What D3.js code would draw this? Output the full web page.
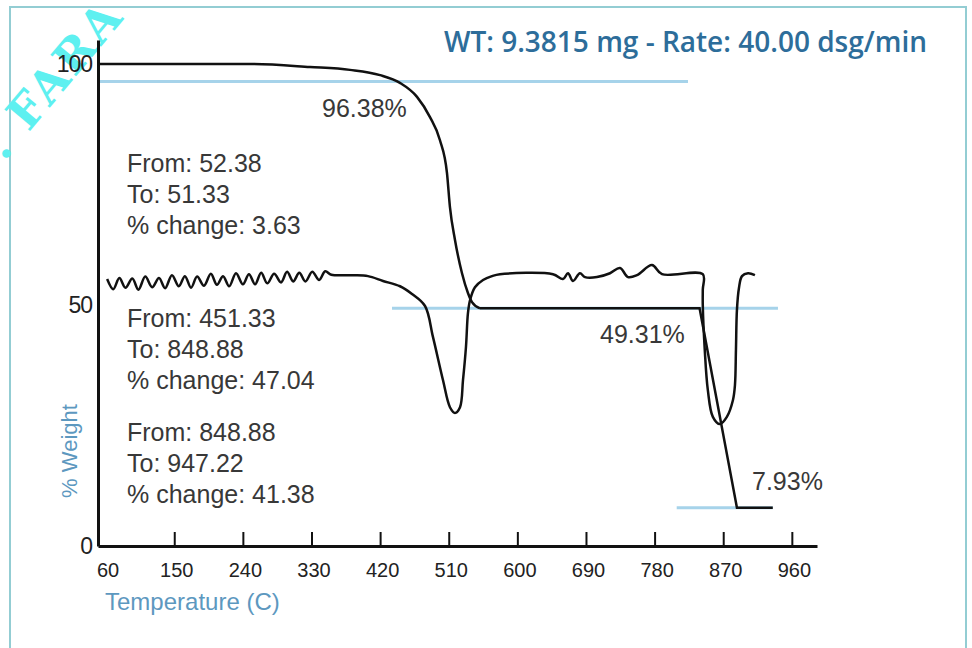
<!DOCTYPE html>
<html>
<head>
<meta charset="utf-8">
<script src="https://cdn.jsdelivr.net/npm/d3@7"></script>
<style>
body { margin: 0; background: #fff; }
text { font-family: "Liberation Sans", Arial, sans-serif; }
</style>
</head>
<body>
<svg id="chart" width="972" height="648"></svg>
<script>
// tick labels
var xTicks = [60, 150, 240, 330, 420, 510, 600, 690, 780, 870, 960];
var yTicks = [0, 50, 100];

// weight curve, smooth part (temperature C, % weight)
var tgaTemp   = [50, 253, 328, 380.5, 420, 446, 468.4, 485.4, 498.5, 507.7, 511.6, 518.2, 527.4, 535.2, 540.5, 551];
var tgaWeight = [100, 100, 99.4, 98.8, 97.7, 96.1, 93.2, 89.0, 84.2, 77.4, 70.3, 63.5, 56.6, 52.5, 50.6, 49.31];
// weight curve, straight part
var stepTemp   = [551, 839, 888, 935];
var stepWeight = [49.31, 49.31, 7.93, 7.93];

// derivative trace, drawn on the same axis
var dtgTemp = [62, 70, 78, 86, 95, 103, 112, 121, 130, 138, 147, 156, 164, 172, 180, 189, 198, 206,
  214, 222, 231, 240, 248, 256, 264, 272, 281, 290, 298, 306, 314, 322, 331, 340, 348, 356,
  384.4, 404.1, 423.8, 446.1, 461.8, 478.9, 489.3, 502.5, 511.6, 518.2, 524.8, 528.7, 532.6, 535.2,
  537.9, 544.4, 555, 566.7, 577.2, 646.7, 659.8, 666.4, 673, 682.1, 688.7, 704.4, 721.5, 734.6,
  745.1, 756.9, 776.6, 789.7, 843.2, 843.2, 843.2, 845.8, 849.8, 856.4, 865.6, 874.8, 882.8, 885.4,
  886.7, 888.0, 890.6, 894.6, 902.5, 911.6];
var dtgValue = [55.4, 53.3, 55.6, 53.6, 55.5, 53.2, 55.9, 53.7, 55.6, 53.5, 56.2, 53.9, 56.0, 53.6, 55.9, 54.0, 56.5, 54.2,
  56.0, 53.9, 56.6, 54.3, 56.4, 54.3, 56.7, 54.5, 56.5, 54.7, 56.9, 54.9, 56.7, 54.9, 56.9, 55.2, 57.0, 56.3,
  56.2, 56.0, 55.0, 53.9, 52.3, 49.8, 43.4, 34.4, 28.8, 27.6, 28.8, 34.4, 41.3, 48.3,
  51.0, 53.7, 55.2, 56.0, 56.4, 56.4, 55.4, 56.6, 55.0, 56.6, 55.8, 55.8, 56.6, 57.7,
  55.8, 56.2, 58.3, 56.4, 56.4, 53.2, 50.0, 40.7, 32.4, 26.8, 25.3, 26.8, 30.3, 33.4,
  40.7, 49.0, 53.5, 56.0, 56.6, 56.2];

// plateau levels
var refLevel = [96.38, 49.31, 7.93];
var refFrom  = [52.6, 435.6, 809];
var refTo    = [823.8, 941.8, 935];
var refLabel = ["96.38%", "49.31%", "7.93%"];

// step annotations
var stepFrom   = ["52.38", "451.33", "848.88"];
var stepTo     = ["51.33", "848.88", "947.22"];
var stepChange = ["3.63", "47.04", "41.38"];

var svg = d3.select("#chart");

var x = d3.scaleLinear().domain([50, 993]).range([98, 817]);
var y = d3.scaleLinear().domain([0, 105]).range([546, 40]);

// frame
svg.append("rect").attr("x", 10).attr("y", 7).attr("width", 956).attr("height", 660)
  .attr("fill", "none").attr("stroke", "#93cdd3").attr("stroke-width", 2);

// watermark
svg.append("text").attr("transform", "translate(4,162) rotate(-50)")
  .attr("fill", "#5ef0f0").style("font-family", "'DejaVu Serif', serif").style("font-weight", "bold")
  .style("font-size", "46px").style("letter-spacing", "3px").text(". FARA");

// plateau lines
refLevel.forEach(function(v, i) {
  svg.append("line")
    .attr("x1", x(refFrom[i])).attr("x2", x(refTo[i]))
    .attr("y1", y(v)).attr("y2", y(v))
    .attr("stroke", "#a6d3ea").attr("stroke-width", 3);
});

// x axis, ticks pointing up
var xAxis = d3.axisBottom(x).tickValues(xTicks).tickSizeInner(-14).tickSizeOuter(0).tickPadding(17);
var gx = svg.append("g").attr("transform", "translate(0," + y(0) + ")").call(xAxis);
gx.select(".domain").attr("stroke", "#111").attr("stroke-width", 3);
gx.selectAll(".tick line").attr("stroke", "#111").attr("stroke-width", 2);
gx.selectAll(".tick").filter(function(d) { return d === 60; }).select("line").remove();
gx.selectAll(".tick text").attr("fill", "#222").style("font-size", "20px").attr("dx", 2);

// y axis
var yAxis = d3.axisLeft(y).tickValues(yTicks).tickSize(0).tickPadding(6);
var gy = svg.append("g").attr("transform", "translate(" + x(50) + ",0)").call(yAxis);
gy.select(".domain").attr("stroke", "#111").attr("stroke-width", 3);
gy.selectAll(".tick text").attr("fill", "#222").style("font-size", "23px").style("letter-spacing", "-1px");

// curves
var smoothLine = d3.line().x(function(d) { return x(d[0]); }).y(function(d) { return y(d[1]); }).curve(d3.curveMonotoneX);
var straightLine = d3.line().x(function(d) { return x(d[0]); }).y(function(d) { return y(d[1]); });
var dtgLine = d3.line().x(function(d) { return x(d[0]); }).y(function(d) { return y(d[1]); }).curve(d3.curveCatmullRom.alpha(0.5));

svg.append("path").attr("d", dtgLine(d3.zip(dtgTemp, dtgValue)))
  .attr("fill", "none").attr("stroke", "#111").attr("stroke-width", 2.5).attr("stroke-linejoin", "round");
svg.append("path").attr("d", smoothLine(d3.zip(tgaTemp, tgaWeight)))
  .attr("fill", "none").attr("stroke", "#111").attr("stroke-width", 2.5);
svg.append("path").attr("d", straightLine(d3.zip(stepTemp, stepWeight)))
  .attr("fill", "none").attr("stroke", "#111").attr("stroke-width", 2.5);

// percent labels
var labelX = [322, 600, 752];
var labelDy = [35, 35, -18];
refLabel.forEach(function(t, i) {
  svg.append("text").attr("x", labelX[i]).attr("y", y(refLevel[i]) + labelDy[i])
    .attr("fill", "#383838").style("font-size", "25px").text(t);
});

// step annotation blocks
var blockTop = [172, 327, 441];
stepFrom.forEach(function(f, i) {
  var lines = ["From: " + f, "To: " + stepTo[i], "% change: " + stepChange[i]];
  lines.forEach(function(t, j) {
    svg.append("text").attr("x", 127).attr("y", blockTop[i] + j * 31)
      .attr("fill", "#383838").style("font-size", "25px").text(t);
  });
});

// title and axis titles
svg.append("text").attr("x", 927).attr("y", 52).attr("text-anchor", "end")
  .attr("fill", "#2d6d9a").style("font-family", "'Open Sans', sans-serif")
  .style("font-weight", 600).style("font-size", "28px")
  .text("WT: 9.3815 mg - Rate: 40.00 dsg/min");

svg.append("text").attr("x", 105).attr("y", 610)
  .attr("fill", "#5d98bf").style("font-size", "24px").text("Temperature (C)");

svg.append("text").attr("transform", "translate(77,451) rotate(-90)").attr("text-anchor", "middle")
  .attr("fill", "#5d98bf").style("font-size", "22px").text("% Weight");
</script>
</body>
</html>
